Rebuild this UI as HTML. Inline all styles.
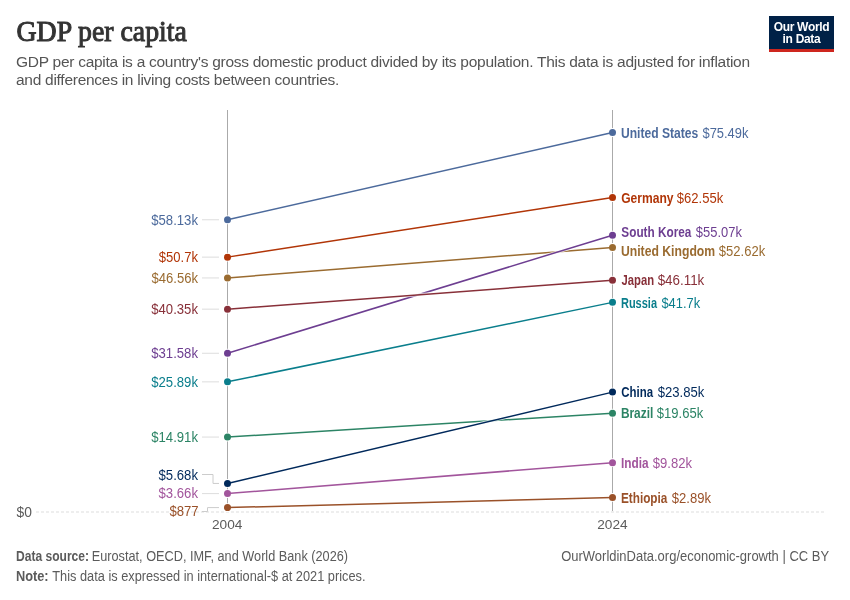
<!DOCTYPE html>
<html><head><meta charset="utf-8"><style>
html,body{margin:0;padding:0;background:#fff;}
body{width:850px;height:600px;position:relative;overflow:hidden;font-family:"Liberation Sans",sans-serif;}
#wrap{position:absolute;left:0;top:0;width:850px;height:600px;background:#fff;will-change:transform;}
svg{position:absolute;left:0;top:0;}
svg text{font-family:"Liberation Sans",sans-serif;}
.title{position:absolute;left:16px;top:17px;font-family:"Liberation Serif",serif;font-size:28px;letter-spacing:0px;-webkit-text-stroke:0.5px #333;color:#333;white-space:nowrap;line-height:1;}
.sub{position:absolute;left:16px;top:52.5px;font-size:15.5px;color:#555;line-height:18px;letter-spacing:-0.27px;white-space:nowrap;}
.logo{position:absolute;left:769px;top:16px;width:65px;height:36px;background:#002147;}
.logo .bar{position:absolute;left:0;bottom:0;width:100%;height:3px;background:#CE261E;}
.logo .t{position:absolute;left:0;top:4.7px;width:100%;text-align:center;color:#fff;font-weight:bold;font-size:12px;line-height:12.5px;letter-spacing:-0.3px;}
</style></head><body><div id="wrap">
<div class="sub">GDP per capita is a country's gross domestic product divided by its population. This data is adjusted for inflation<br>and differences in living costs between countries.</div>
<div class="logo"><div class="t">Our World<br>in Data</div><div class="bar"></div></div>
<svg width="850" height="600" viewBox="0 0 850 600">
<line x1="36" y1="512" x2="826" y2="512" stroke="#ddd" stroke-width="1" stroke-dasharray="3,2"/>
<line x1="227.5" y1="110" x2="227.5" y2="511" stroke="#aaa" stroke-width="1"/>
<line x1="612.5" y1="110" x2="612.5" y2="511" stroke="#aaa" stroke-width="1"/>
<line x1="202" y1="219.78" x2="219" y2="219.78" stroke="#ddd" stroke-width="1"/>
<line x1="202" y1="257.13" x2="219" y2="257.13" stroke="#ddd" stroke-width="1"/>
<line x1="202" y1="277.94" x2="219" y2="277.94" stroke="#ddd" stroke-width="1"/>
<line x1="202" y1="353.25" x2="219" y2="353.25" stroke="#ddd" stroke-width="1"/>
<line x1="202" y1="309.16" x2="219" y2="309.16" stroke="#ddd" stroke-width="1"/>
<line x1="202" y1="381.85" x2="219" y2="381.85" stroke="#ddd" stroke-width="1"/>
<line x1="202" y1="437.05" x2="219" y2="437.05" stroke="#ddd" stroke-width="1"/>
<path d="M202 474.50 H213 V483.45 H219" fill="none" stroke="#ccc" stroke-width="1"/>
<line x1="202" y1="493.60" x2="219" y2="493.60" stroke="#ddd" stroke-width="1"/>
<path d="M202 511.50 H207.5 V507.59 H219" fill="none" stroke="#ccc" stroke-width="1"/>
<circle cx="227.5" cy="219.78" r="4.4" fill="#fff"/><circle cx="612.5" cy="132.51" r="4.4" fill="#fff"/>
<circle cx="227.5" cy="257.13" r="4.4" fill="#fff"/><circle cx="612.5" cy="197.56" r="4.4" fill="#fff"/>
<circle cx="227.5" cy="277.94" r="4.4" fill="#fff"/><circle cx="612.5" cy="247.48" r="4.4" fill="#fff"/>
<circle cx="227.5" cy="353.25" r="4.4" fill="#fff"/><circle cx="612.5" cy="235.16" r="4.4" fill="#fff"/>
<circle cx="227.5" cy="309.16" r="4.4" fill="#fff"/><circle cx="612.5" cy="280.21" r="4.4" fill="#fff"/>
<circle cx="227.5" cy="381.85" r="4.4" fill="#fff"/><circle cx="612.5" cy="302.37" r="4.4" fill="#fff"/>
<circle cx="227.5" cy="437.05" r="4.4" fill="#fff"/><circle cx="612.5" cy="413.22" r="4.4" fill="#fff"/>
<circle cx="227.5" cy="483.45" r="4.4" fill="#fff"/><circle cx="612.5" cy="392.11" r="4.4" fill="#fff"/>
<circle cx="227.5" cy="493.60" r="4.4" fill="#fff"/><circle cx="612.5" cy="462.63" r="4.4" fill="#fff"/>
<circle cx="227.5" cy="507.59" r="4.4" fill="#fff"/><circle cx="612.5" cy="497.47" r="4.4" fill="#fff"/>
<line x1="227.5" y1="219.78" x2="612.5" y2="132.51" stroke="#fff" stroke-width="3.2" stroke-opacity="0.75"/><line x1="227.5" y1="219.78" x2="612.5" y2="132.51" stroke="#4C6A9C" stroke-width="1.5"/>
<line x1="227.5" y1="257.13" x2="612.5" y2="197.56" stroke="#fff" stroke-width="3.2" stroke-opacity="0.75"/><line x1="227.5" y1="257.13" x2="612.5" y2="197.56" stroke="#B13507" stroke-width="1.5"/>
<line x1="227.5" y1="277.94" x2="612.5" y2="247.48" stroke="#fff" stroke-width="3.2" stroke-opacity="0.75"/><line x1="227.5" y1="277.94" x2="612.5" y2="247.48" stroke="#9A6B30" stroke-width="1.5"/>
<line x1="227.5" y1="353.25" x2="612.5" y2="235.16" stroke="#fff" stroke-width="3.2" stroke-opacity="0.75"/><line x1="227.5" y1="353.25" x2="612.5" y2="235.16" stroke="#6D3E91" stroke-width="1.5"/>
<line x1="227.5" y1="309.16" x2="612.5" y2="280.21" stroke="#fff" stroke-width="3.2" stroke-opacity="0.75"/><line x1="227.5" y1="309.16" x2="612.5" y2="280.21" stroke="#883039" stroke-width="1.5"/>
<line x1="227.5" y1="381.85" x2="612.5" y2="302.37" stroke="#fff" stroke-width="3.2" stroke-opacity="0.75"/><line x1="227.5" y1="381.85" x2="612.5" y2="302.37" stroke="#0A7E8C" stroke-width="1.5"/>
<line x1="227.5" y1="437.05" x2="612.5" y2="413.22" stroke="#fff" stroke-width="3.2" stroke-opacity="0.75"/><line x1="227.5" y1="437.05" x2="612.5" y2="413.22" stroke="#2C8465" stroke-width="1.5"/>
<line x1="227.5" y1="483.45" x2="612.5" y2="392.11" stroke="#fff" stroke-width="3.2" stroke-opacity="0.75"/><line x1="227.5" y1="483.45" x2="612.5" y2="392.11" stroke="#00295B" stroke-width="1.5"/>
<line x1="227.5" y1="493.60" x2="612.5" y2="462.63" stroke="#fff" stroke-width="3.2" stroke-opacity="0.75"/><line x1="227.5" y1="493.60" x2="612.5" y2="462.63" stroke="#A2559C" stroke-width="1.5"/>
<line x1="227.5" y1="507.59" x2="612.5" y2="497.47" stroke="#fff" stroke-width="3.2" stroke-opacity="0.75"/><line x1="227.5" y1="507.59" x2="612.5" y2="497.47" stroke="#9A5129" stroke-width="1.5"/>
<text x="16.55" y="516.60" font-size="14" fill="#5b5b5b" textLength="15.39" lengthAdjust="spacingAndGlyphs">$0</text>
<text x="212.01" y="528.90" font-size="13" fill="#5b5b5b" textLength="30.39" lengthAdjust="spacingAndGlyphs">2004</text>
<text x="597.21" y="528.90" font-size="13" fill="#5b5b5b" textLength="30.39" lengthAdjust="spacingAndGlyphs">2024</text>
<circle cx="227.5" cy="219.78" r="3.5" fill="#4C6A9C"/><circle cx="612.5" cy="132.51" r="3.5" fill="#4C6A9C"/>
<text x="151.26" y="224.78" font-size="14" fill="#4C6A9C" textLength="46.72" lengthAdjust="spacingAndGlyphs">$58.13k</text>
<text x="620.97" y="137.71" font-size="14" font-weight="bold" fill="#4C6A9C" textLength="77.22" lengthAdjust="spacingAndGlyphs">United States</text>
<text x="702.46" y="137.71" font-size="14" fill="#4C6A9C" textLength="45.92" lengthAdjust="spacingAndGlyphs">$75.49k</text>
<circle cx="227.5" cy="257.13" r="3.5" fill="#B13507"/><circle cx="612.5" cy="197.56" r="3.5" fill="#B13507"/>
<text x="158.76" y="262.13" font-size="14" fill="#B13507" textLength="39.22" lengthAdjust="spacingAndGlyphs">$50.7k</text>
<text x="621.21" y="202.76" font-size="14" font-weight="bold" fill="#B13507" textLength="52.26" lengthAdjust="spacingAndGlyphs">Germany</text>
<text x="676.86" y="202.76" font-size="14" fill="#B13507" textLength="46.42" lengthAdjust="spacingAndGlyphs">$62.55k</text>
<circle cx="227.5" cy="277.94" r="3.5" fill="#9A6B30"/><circle cx="612.5" cy="247.48" r="3.5" fill="#9A6B30"/>
<text x="151.46" y="282.94" font-size="14" fill="#9A6B30" textLength="46.52" lengthAdjust="spacingAndGlyphs">$46.56k</text>
<text x="620.97" y="255.90" font-size="14" font-weight="bold" fill="#9A6B30" textLength="94.19" lengthAdjust="spacingAndGlyphs">United Kingdom</text>
<text x="718.86" y="255.90" font-size="14" fill="#9A6B30" textLength="46.32" lengthAdjust="spacingAndGlyphs">$52.62k</text>
<circle cx="227.5" cy="353.25" r="3.5" fill="#6D3E91"/><circle cx="612.5" cy="235.16" r="3.5" fill="#6D3E91"/>
<text x="151.25" y="358.25" font-size="14" fill="#6D3E91" textLength="46.73" lengthAdjust="spacingAndGlyphs">$31.58k</text>
<text x="621.36" y="237.40" font-size="14" font-weight="bold" fill="#6D3E91" textLength="69.96" lengthAdjust="spacingAndGlyphs">South Korea</text>
<text x="695.86" y="237.40" font-size="14" fill="#6D3E91" textLength="46.02" lengthAdjust="spacingAndGlyphs">$55.07k</text>
<circle cx="227.5" cy="309.16" r="3.5" fill="#883039"/><circle cx="612.5" cy="280.21" r="3.5" fill="#883039"/>
<text x="151.25" y="314.16" font-size="14" fill="#883039" textLength="46.73" lengthAdjust="spacingAndGlyphs">$40.35k</text>
<text x="621.53" y="285.41" font-size="14" font-weight="bold" fill="#883039" textLength="32.57" lengthAdjust="spacingAndGlyphs">Japan</text>
<text x="657.66" y="285.41" font-size="14" fill="#883039" textLength="46.62" lengthAdjust="spacingAndGlyphs">$46.11k</text>
<circle cx="227.5" cy="381.85" r="3.5" fill="#0A7E8C"/><circle cx="612.5" cy="302.37" r="3.5" fill="#0A7E8C"/>
<text x="151.25" y="386.85" font-size="14" fill="#0A7E8C" textLength="46.73" lengthAdjust="spacingAndGlyphs">$25.89k</text>
<text x="620.96" y="307.57" font-size="14" font-weight="bold" fill="#0A7E8C" textLength="36.07" lengthAdjust="spacingAndGlyphs">Russia</text>
<text x="661.46" y="307.57" font-size="14" fill="#0A7E8C" textLength="38.72" lengthAdjust="spacingAndGlyphs">$41.7k</text>
<circle cx="227.5" cy="437.05" r="3.5" fill="#2C8465"/><circle cx="612.5" cy="413.22" r="3.5" fill="#2C8465"/>
<text x="151.25" y="442.05" font-size="14" fill="#2C8465" textLength="46.73" lengthAdjust="spacingAndGlyphs">$14.91k</text>
<text x="620.91" y="418.42" font-size="14" font-weight="bold" fill="#2C8465" textLength="32.34" lengthAdjust="spacingAndGlyphs">Brazil</text>
<text x="656.86" y="418.42" font-size="14" fill="#2C8465" textLength="46.42" lengthAdjust="spacingAndGlyphs">$19.65k</text>
<circle cx="227.5" cy="483.45" r="3.5" fill="#00295B"/><circle cx="612.5" cy="392.11" r="3.5" fill="#00295B"/>
<text x="158.55" y="480.10" font-size="14" fill="#00295B" textLength="39.43" lengthAdjust="spacingAndGlyphs">$5.68k</text>
<text x="621.23" y="397.31" font-size="14" font-weight="bold" fill="#00295B" textLength="31.80" lengthAdjust="spacingAndGlyphs">China</text>
<text x="657.66" y="397.31" font-size="14" fill="#00295B" textLength="46.62" lengthAdjust="spacingAndGlyphs">$23.85k</text>
<circle cx="227.5" cy="493.60" r="3.5" fill="#A2559C"/><circle cx="612.5" cy="462.63" r="3.5" fill="#A2559C"/>
<text x="158.55" y="498.00" font-size="14" fill="#A2559C" textLength="39.43" lengthAdjust="spacingAndGlyphs">$3.66k</text>
<text x="620.91" y="467.83" font-size="14" font-weight="bold" fill="#A2559C" textLength="27.62" lengthAdjust="spacingAndGlyphs">India</text>
<text x="652.76" y="467.83" font-size="14" fill="#A2559C" textLength="39.22" lengthAdjust="spacingAndGlyphs">$9.82k</text>
<circle cx="227.5" cy="507.59" r="3.5" fill="#9A5129"/><circle cx="612.5" cy="497.47" r="3.5" fill="#9A5129"/>
<text x="169.45" y="515.70" font-size="14" fill="#9A5129" textLength="29.21" lengthAdjust="spacingAndGlyphs">$877</text>
<text x="620.91" y="502.67" font-size="14" font-weight="bold" fill="#9A5129" textLength="46.51" lengthAdjust="spacingAndGlyphs">Ethiopia</text>
<text x="671.76" y="502.67" font-size="14" fill="#9A5129" textLength="39.22" lengthAdjust="spacingAndGlyphs">$2.89k</text>
<text x="16.47" y="40.5" font-size="29" fill="#333" stroke="#333" stroke-width="1.0" textLength="170.41" lengthAdjust="spacingAndGlyphs" style="font-family:'Liberation Serif',serif">GDP per capita</text>
<text x="15.99" y="560.90" font-size="14" font-weight="bold" fill="#5b5b5b" textLength="73.07" lengthAdjust="spacingAndGlyphs">Data source:</text>
<text x="91.76" y="560.90" font-size="14" fill="#5b5b5b" textLength="256.32" lengthAdjust="spacingAndGlyphs">Eurostat, OECD, IMF, and World Bank (2026)</text>
<text x="15.94" y="580.90" font-size="14" font-weight="bold" fill="#5b5b5b" textLength="32.69" lengthAdjust="spacingAndGlyphs">Note:</text>
<text x="52.31" y="580.90" font-size="14" fill="#5b5b5b" textLength="313.15" lengthAdjust="spacingAndGlyphs">This data is expressed in international-$ at 2021 prices.</text>
<text x="561.19" y="560.90" font-size="14" fill="#5b5b5b" textLength="267.90" lengthAdjust="spacingAndGlyphs">OurWorldinData.org/economic-growth | CC BY</text>
</svg>
</div></body></html>
